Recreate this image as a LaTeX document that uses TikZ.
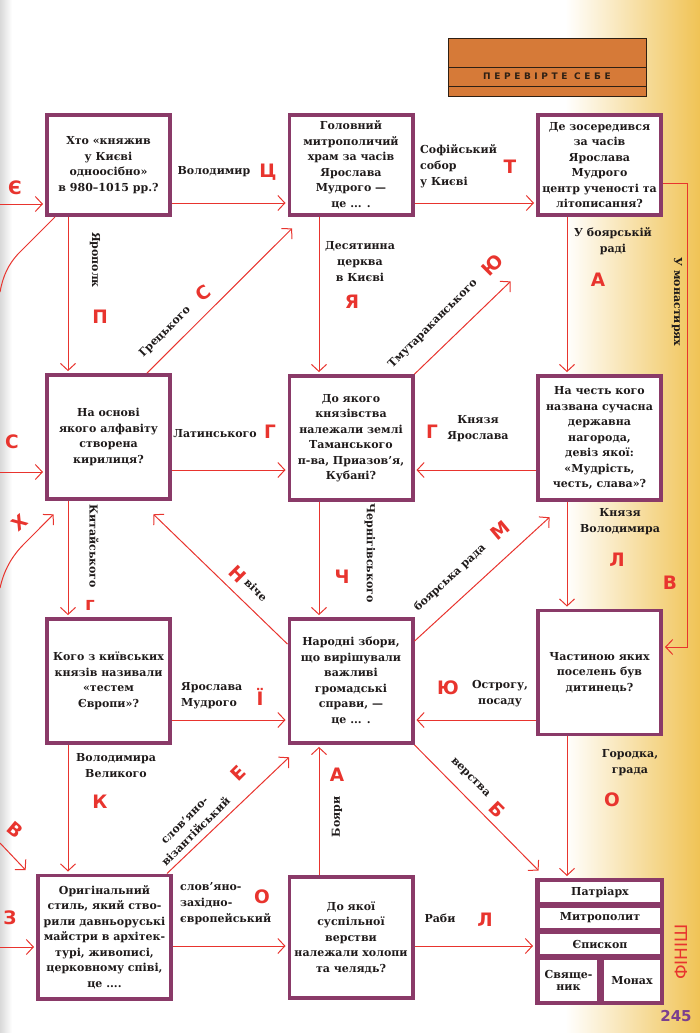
\documentclass[tikz,border=0pt]{standalone}
\usepackage{fontspec}
\setmainfont{DejaVu Serif}
\newfontfamily\qzsans{DejaVu Sans}
\newfontfamily\qzspaced[LetterSpace=40]{DejaVu Sans}
\usepackage{xcolor}
\definecolor{qzink}{HTML}{1E1A1A}
\definecolor{qzplum}{HTML}{8A3A68}
\definecolor{qzred}{HTML}{E8342E}
\definecolor{qzorange}{HTML}{D67A38}
\definecolor{qzdark}{HTML}{2E2014}
\definecolor{qzgold}{HTML}{F0C355}
\definecolor{qzpurple}{HTML}{7B3F8F}
\usepackage{tikz}
\usetikzlibrary{arrows.meta,calc}
\tikzset{
  qzbox/.style  ={rectangle, draw=qzplum, fill=white, line width=3.8pt,
                  minimum width=123.2pt, minimum height=124pt, inner sep=1pt,
                  align=center, text=qzink,
                  font=\bfseries\fontsize{11}{15.5}\selectfont},
  qzcell/.style ={rectangle, fill=white, inner sep=0pt, align=center, text=qzink,
                  font=\bfseries\fontsize{11}{12.5}\selectfont},
  qzlbl/.style  ={font=\bfseries\fontsize{11}{16}\selectfont, text=qzink,
                  align=center, inner sep=0pt},
  qzltr/.style  ={font=\qzsans\bfseries\fontsize{18.5}{18.5}\selectfont, text=qzred,
                  inner sep=0pt},
  qzwire/.style ={draw=qzred, line width=1pt},
  qzarrow/.style={qzwire, -{Straight Barb[length=7pt,width=15pt]}, shorten >=2pt},
}

\begin{document}
\begin{tikzpicture}[x=1pt,y=-1pt]
  \useasboundingbox (0,0) rectangle (700,1033);
  \shade[left color=white, right color=qzgold] (565,0) rectangle (700,1033);
  \shade[left color=black!15, right color=white] (0,0) rectangle (12,1033);

  \fill[qzorange] (448,38) rectangle (646,96);
  \draw[qzdark, line width=0.8pt] (448,38) rectangle (646,96);
  \draw[qzdark, line width=0.8pt] (448,67) -- (646,67) (448,86) -- (646,86);
  \node[font=\qzspaced\bfseries\fontsize{9}{9}\selectfont, text=qzdark] (hdr) at (547,76.5) {ПЕРЕВІРТЕ СЕБЕ};

  \node[qzbox, minimum height=100.2pt] (ask11) at (108.5,165) {Хто «княжив\\у Києві\\одноосібно»\\в 980–1015 рр.?};
  \node[qzbox, minimum height=100.2pt] (ask12) at (351,165) {Головний\\митрополичий\\храм за часів\\Ярослава\\Мудрого —\\це ... .};
  \node[qzbox, minimum height=100.2pt] (ask13) at (599.5,165) {Де зосередився\\за часів\\Ярослава\\Мудрого\\центр ученості та\\літописання?};
  \node[qzbox] (ask21) at (108.5,437) {На основі\\якого алфавіту\\створена\\кирилиця?};
  \node[qzbox] (ask22) at (351,438) {До якого\\князівства\\належали землі\\Таманського\\п-ва, Приазов’я,\\Кубані?};
  \node[qzbox] (ask23) at (599.5,438) {На честь кого\\названа сучасна\\державна\\нагорода,\\девіз якої:\\«Мудрість,\\честь, слава»?};
  \node[qzbox] (ask31) at (108.5,681) {Кого з київських\\князів називали\\«тестем\\Європи»?};
  \node[qzbox] (ask32) at (351,681) {Народні збори,\\що вирішували\\важливі\\громадські\\справи, —\\це ... .};
  \node[qzbox] (ask33) at (599.5,672.5) {Частиною яких\\поселень був\\дитинець?};
  \node[qzbox, minimum width=133.2pt, minimum height=123.2pt] (ask41) at (104.5,937) {Оригінальний\\стиль, який ство-\\рили давньоруські\\майстри в архітек-\\турі, живописі,\\церковному співі,\\це ....};
  \node[qzbox, minimum height=121.2pt] (ask42) at (351,937.5) {До якої\\суспільної\\верстви\\належали холопи\\та челядь?};
  \node[qzbox, fill=qzplum, minimum width=125.2pt, minimum height=123.2pt] (ask43) at (599.5,941.5) {};
  \node[qzcell, minimum width=120pt, minimum height=20pt] (patr) at (600,892) {Патріарх};
  \node[qzcell, minimum width=120pt, minimum height=20pt] (metr) at (600,918) {Митрополит};
  \node[qzcell, minimum width=120pt, minimum height=20pt] (episk) at (600,944) {Єпископ};
  \node[qzcell, minimum width=57pt, minimum height=41pt] (priest) at (568.5,980.5) {Свяще-\\ник};
  \node[qzcell, minimum width=56pt, minimum height=41pt] (monk) at (632,980.5) {Монах};

  \coordinate (inE) at (0,204);
  \coordinate (inS) at (0,472);
  \coordinate (inZ) at (0,947);
  \coordinate (offA) at (0,292);
  \coordinate (offX) at (0,588);
  \coordinate (offV) at (0,843);
  \coordinate (tmuEnd) at (512,280);
  \coordinate (mon1) at (687,183);
  \coordinate (mon2) at (687,647);
  \coordinate (col1) at (68,0);
  \coordinate (col2) at (319,0);
  \coordinate (col3) at (567,0);
  \coordinate (row1) at (0,203);
  \coordinate (row2) at (0,470);
  \coordinate (row3) at (0,720);
  \coordinate (row4) at (0,946);

  \draw[qzarrow] (inE) -- (inE -| ask11.west);
  \draw[qzarrow] (ask11.east |- row1) -- (ask12.west |- row1);
  \draw[qzarrow] (ask12.east |- row1) -- (ask13.west |- row1);
  \draw[qzarrow] (inS) -- (inS -| ask21.west);
  \draw[qzarrow] (ask21.east |- row2) -- (ask22.west |- row2);
  \draw[qzarrow] (ask23.west |- row2) -- (ask22.east |- row2);
  \draw[qzarrow] (ask31.east |- row3) -- (ask32.west |- row3);
  \draw[qzarrow] (ask33.west |- row3) -- (ask32.east |- row3);
  \draw[qzarrow] (inZ) -- (inZ -| ask41.west);
  \draw[qzarrow] (ask41.east |- row4) -- (ask42.west |- row4);
  \draw[qzarrow] (ask42.east |- row4) -- (ask43.west |- row4);

  \draw[qzarrow] (ask11.south -| col1) -- (ask21.north -| col1);
  \draw[qzarrow] (ask21.south -| col1) -- (ask31.north -| col1);
  \draw[qzarrow] (ask31.south -| col1) -- (ask41.north -| col1);
  \draw[qzarrow] (ask12.south -| col2) -- (ask22.north -| col2);
  \draw[qzarrow] (ask22.south -| col2) -- (ask32.north -| col2);
  \draw[qzarrow] (ask42.north -| col2) -- (ask32.south -| col2);
  \draw[qzarrow] (ask13.south -| col3) -- (ask23.north -| col3);
  \draw[qzarrow] (ask23.south -| col3) -- (ask33.north -| col3);
  \draw[qzarrow] (ask33.south -| col3) -- (ask43.north -| col3);
  \draw[qzarrow] (ask13.east |- mon1) -- (mon1) -- (mon2) -- (ask33.east |- mon2);

  \draw[qzarrow] ([xshift=-25pt]ask21.north east) -- ([shift={(6pt,-10pt)}]ask12.south west);
  \draw[qzarrow] (ask22.north east) -- (tmuEnd);
  \draw[qzarrow] ([yshift=-24pt]ask32.north east) -- ([shift={(15pt,-14pt)}]ask23.south west);
  \draw[qzarrow] ([yshift=-27pt]ask32.north west) -- ([shift={(-20pt,-12pt)}]ask21.south east);
  \draw[qzarrow] ([xshift=-6pt]ask41.north east) -- ([shift={(3pt,-11pt)}]ask32.south west);
  \draw[qzarrow] (ask32.south east) -- ([shift={(5pt,6pt)}]ask43.north west);

  \draw[qzwire] ([xshift=10pt]ask11.south west) -- (18,254) .. controls (8,265) and (3,276) .. (offA);
  \draw[qzarrow] (offX) .. controls (4,570) and (12,556) .. (24,544) -- ([shift={(10pt,-12pt)}]ask21.south west);
  \draw[qzarrow] (offV) -- ([shift={(-9pt,2pt)}]ask41.north west);

  \node[qzlbl] (aVolod) at (214,172) {Володимир};
  \node[qzlbl, align=left, anchor=north west] (aSofia) at (420,144) {Софійський\\собор\\у Києві};
  \node[qzlbl] (aDesyat) at (360,262) {Десятинна\\церква\\в Києві};
  \node[qzlbl] (aBoyar) at (613,241) {У боярській\\раді};
  \node[qzlbl, rotate=-90] (aYarop) at (95,260) {Ярополк};
  \node[qzlbl, rotate=-90] (aMonast) at (677,302) {У монастирях};
  \node[qzlbl, rotate=45] (aGrec) at (165,332) {Грецького};
  \node[qzlbl, rotate=45] (aTmut) at (433,324) {Тмутараканського};
  \node[qzlbl] (aLatin) at (215,434) {Латинського};
  \node[qzlbl] (aKnYar) at (478,429) {Князя\\Ярослава};
  \node[qzlbl, rotate=-90] (aKitai) at (94,546) {Китайського};
  \node[qzlbl, rotate=-90] (aChern) at (370,553) {Чернігівського};
  \node[qzlbl] (aKnVol) at (620,522) {Князя\\Володимира};
  \node[qzlbl, rotate=-45] (aViche) at (256,590) {віче};
  \node[qzlbl, rotate=43] (aBoyRada) at (450,578) {боярська рада};
  \node[qzlbl, align=left, anchor=west] (aYarMud) at (181,696) {Ярослава\\Мудрого};
  \node[qzlbl] (aOstrog) at (500,694) {Острогу,\\посаду};
  \node[qzlbl] (aVolVel) at (116,766) {Володимира\\Великого};
  \node[qzlbl, rotate=45] (aSlVis) at (190,826) {слов'яно-\\візантійський};
  \node[qzlbl, rotate=-45] (aVerstva) at (470,778) {верства};
  \node[qzlbl, rotate=90] (aBoyary) at (337,817) {Бояри};
  \node[qzlbl] (aGorod) at (630,763) {Городка,\\града};
  \node[qzlbl, align=left, anchor=north west] (aSlZah) at (180,882) {слов'яно-\\західно-\\європейський};
  \node[qzlbl] (aRaby) at (440,918) {Раби};

  \foreach \ch/\x/\y/\r [count=\i] in {Є/15/188/0, Ц/268/172/0, Т/510/167/0, П/100/317/0,
      Я/352/302/0, А/598/280/0, С/203/293/35, Ю/492/265/45, В/670/583/0, С/12/442/0,
      Г/270/432/0, Г/432/432/0, Х/20/523/40, г/90/605/0, Ч/342/577/0, Л/617/560/0,
      Н/238/574/-45, М/500/530/40, Ї/260/697/0, Ю/448/688/0, К/100/802/0, В/15/830/-40,
      Е/238/773/45, А/337/775/0, Б/497/810/-45, О/612/800/0, З/10/918/0, О/262/897/0,
      Л/485/920/0}
    \node[qzltr, rotate=\r] (ltr\i) at (\x,\y) {\ch};

  \node[font=\qzsans\fontsize{17}{17}\selectfont, text=qzred, rotate=90] (finish) at (681,952) {ФІНІШ};
  \node[font=\qzsans\bfseries\fontsize{15}{15}\selectfont, text=qzpurple] (pgnum) at (676,1016) {245};
\end{tikzpicture}
\end{document}
